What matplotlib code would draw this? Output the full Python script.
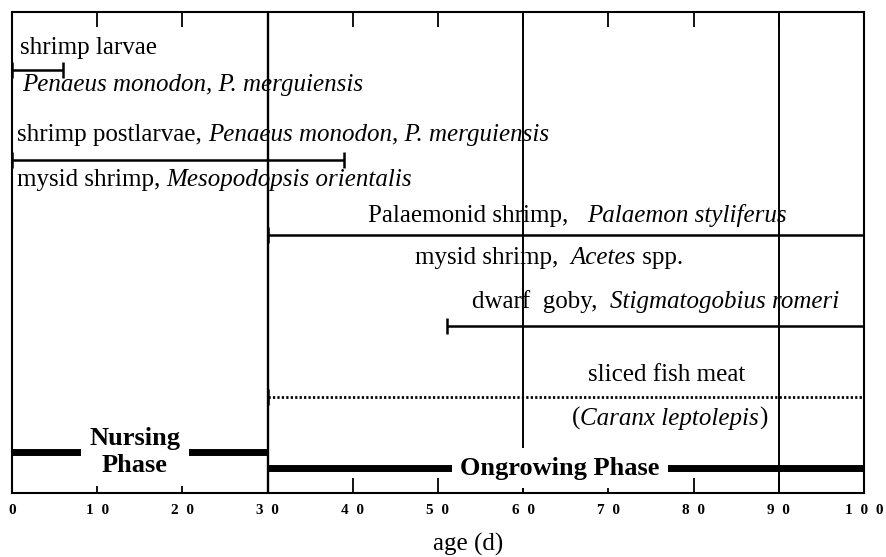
import matplotlib
matplotlib.use("Agg")
import matplotlib.pyplot as plt

# feeding periods (days)
bar_names = ["shrimp larvae", "shrimp postlarvae / Mesopodopsis", "Palaemon / Acetes",
             "dwarf goby", "sliced fish meat"]
bar_start = [0, 0, 30, 51, 30]
bar_end = [6, 39, 100, 100, 100]
bar_style = ["-", "-", "-", "-", ":"]

phase_names = ["Nursing\nPhase", "Ongrowing Phase"]
phase_start = [0, 30]
phase_end = [30, 100]

xticks = list(range(0, 101, 10))
xtick_labels = ["  ".join(str(t)) for t in xticks]
guide_days = [30, 60, 90]

# layout (rows in pixel-like units, top = 12, bottom = 493)
bar_rows = [70, 160, 235, 326, 397]
phase_rows = [452, 468]
phase_text_x = [14.4, 64.3]

plt.rcParams["font.family"] = ["Liberation Serif", "DejaVu Serif"]

fig = plt.figure(figsize=(8.87, 5.57), dpi=100)
ax = fig.add_axes([12 / 887, 64 / 557, 852 / 887, 481 / 557])
ax.set_xlim(0, 100)
ax.set_ylim(493, 12)

for sp in ax.spines.values():
    sp.set_linewidth(1.5)

ax.set_xticks(xticks)
ax.set_xticklabels(xtick_labels, fontweight="bold", fontsize=11)
ax.tick_params(axis="x", direction="in", top=True, length=11, width=1.3, pad=8)
ax.set_yticks([])
ax.set_xlabel("age (d)", fontsize=18, va="center")
ax.xaxis.set_label_coords(0.535, -0.107)

for d in guide_days:
    ax.axvline(d, color="black", lw=1.4 if d != 30 else 1.7, zorder=1)

# species bars
for s, e, y, ls in zip(bar_start, bar_end, bar_rows, bar_style):
    if ls == "-":
        ax.hlines(y, s, e, colors="black", lw=1.8, zorder=3)
    else:
        ax.hlines(y, s, e, colors="black", lw=2.0, linestyles=(0, (0.8, 0.8)), zorder=3)
    ax.plot([s, e], [y, y], ls="none", marker="|", ms=11, mew=1.8,
            color="black", zorder=3)

# phase bars
for name, s, e, y, tx in zip(phase_names, phase_start, phase_end, phase_rows, phase_text_x):
    ax.hlines(y, s, e, colors="black", lw=5, zorder=2)
    ax.text(tx, y, name, ha="center", va="center", fontsize=19, fontweight="bold",
            linespacing=1.25, zorder=4,
            bbox=dict(facecolor="white", edgecolor="none", pad=6))


def mixed(x, y, parts, size=18):
    """Write text pieces in a row, each in its own style."""
    prev = None
    for s, style in parts:
        if prev is None:
            prev = ax.text(x, y, s, fontsize=size, style=style,
                           ha="left", va="center", zorder=0.5)
        else:
            prev = ax.annotate(s, xy=(1, 0), xycoords=prev, fontsize=size,
                               style=style, ha="left", va="bottom", zorder=0.5)


mixed(0.94, 48, [("shrimp larvae", "normal")])
mixed(1.17, 85, [("Penaeus monodon, P. merguiensis", "italic")])
mixed(0.6, 135, [("shrimp postlarvae, ", "normal"),
                 ("Penaeus monodon, P. merguiensis", "italic")])
mixed(0.6, 180, [("mysid shrimp, ", "normal"),
                 ("Mesopodopsis orientalis", "italic")])
mixed(41.8, 216, [("Palaemonid shrimp,   ", "normal"),
                  ("Palaemon styliferus", "italic")])
mixed(47.3, 258, [("mysid shrimp,  ", "normal"), ("Acetes", "italic"),
                  (" spp.", "normal")])
mixed(54.0, 302, [("dwarf  goby,  ", "normal"),
                  ("Stigmatogobius romeri", "italic")])
mixed(67.6, 375, [("sliced fish meat", "normal")])
mixed(65.7, 418, [("(", "normal"), ("Caranx leptolepis", "italic"),
                  (")", "normal")])

fig.savefig("out.png", dpi=100, facecolor="white")
